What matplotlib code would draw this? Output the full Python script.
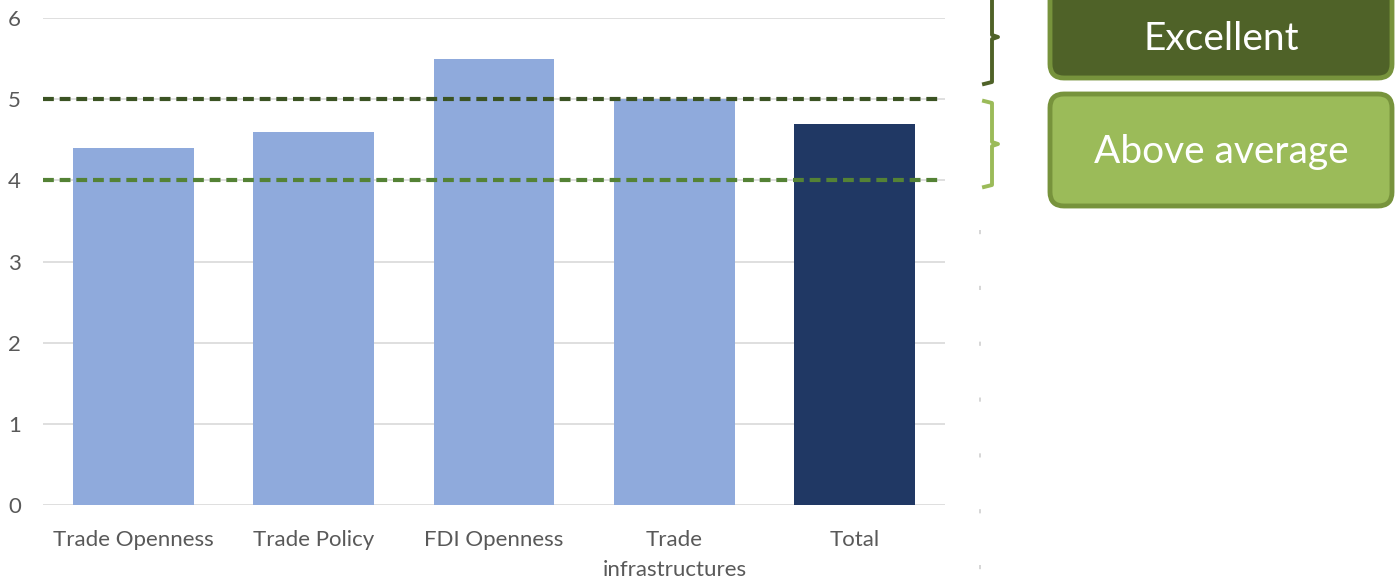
import matplotlib
matplotlib.use("Agg")
import matplotlib.pyplot as plt
import numpy as np
from matplotlib.patches import FancyBboxPatch

plt.rcParams['font.family'] = ['Lato', 'DejaVu Sans']

# Data
categories = ['Trade Openness', 'Trade Policy', 'FDI Openness',
              'Trade\ninfrastructures', 'Total']
scores = [4.4, 4.6, 5.5, 5.0, 4.7]
bar_colors = ['#8FAADC', '#8FAADC', '#8FAADC', '#8FAADC', '#203864']
thresholds = [5.0, 4.0]
threshold_colors = ['#3B5323', '#548235']
band_labels = ['Excellent', 'Above average']
band_fills = ['#4F6228', '#9BBB59']
band_brackets = ['#4F6228', '#9BBB59']

W, H = 1400, 577
fig = plt.figure(figsize=(W / 100, H / 100), dpi=100)

# main bar chart
ax = fig.add_axes([43 / W, 1 - 505 / H, (945 - 43) / W, (505 - 18) / H])
x = np.arange(len(categories))
ax.bar(x, scores, width=0.67, color=bar_colors, zorder=2)
ax.set_xlim(-0.5, len(categories) - 0.5)
ax.set_ylim(0, 6)
ax.set_yticks(range(0, 7))
ax.set_xticks(x)
ax.set_xticklabels(categories, linespacing=1.6)
ax.grid(True, axis='y', color='#D9D9D9', linewidth=1.2, zorder=0)
for s in ax.spines.values():
    s.set_visible(False)
ax.tick_params(length=0, labelsize=16, colors='#595959')
ax.tick_params(axis='x', pad=18)
ax.tick_params(axis='y', pad=16)

for t, c in zip(thresholds, threshold_colors):
    ax.axhline(t, xmin=0, xmax=0.995, color=c, linewidth=3,
               dashes=(2.6, 1.4), zorder=3)

# overlay in pixel coordinates for the legend boxes and brackets
ov = fig.add_axes([0, 0, 1, 1], facecolor='none')
ov.set_xlim(0, W)
ov.set_ylim(H, 0)
ov.axis('off')

# faint dotted separator
ov.plot([980, 980], [230, 577], color='#D0D0D0', linewidth=1.2,
        dashes=(2.5, 31), dash_capstyle='butt')

# brackets
bracket_spans = [(-10, 84), (101, 187)]
for (y0, y1), c in zip(bracket_spans, band_brackets):
    ym = (y0 + y1) / 2
    ov.plot([984, 992, 992, 998, 992, 992, 984],
            [y0, y0 + 2, ym - 2, ym, ym + 2, y1 - 2, y1],
            color=c, linewidth=2.8, solid_joinstyle='round')

# boxes
box_spans = [(-15, 78), (94, 206)]
for (y0, y1), fill, lab in zip(box_spans, band_fills, band_labels):
    p = FancyBboxPatch((1050, y0), 342, y1 - y0,
                       boxstyle='round,pad=0,rounding_size=14',
                       facecolor=fill, edgecolor='#77933C', linewidth=3.5)
    ov.add_patch(p)
    yc = 39 if y0 < 0 else (y0 + y1) / 2 + 2
    ov.text(1221, yc, lab, color='white', fontsize=28,
            ha='center', va='center')

fig.savefig('out.png', dpi=100)
